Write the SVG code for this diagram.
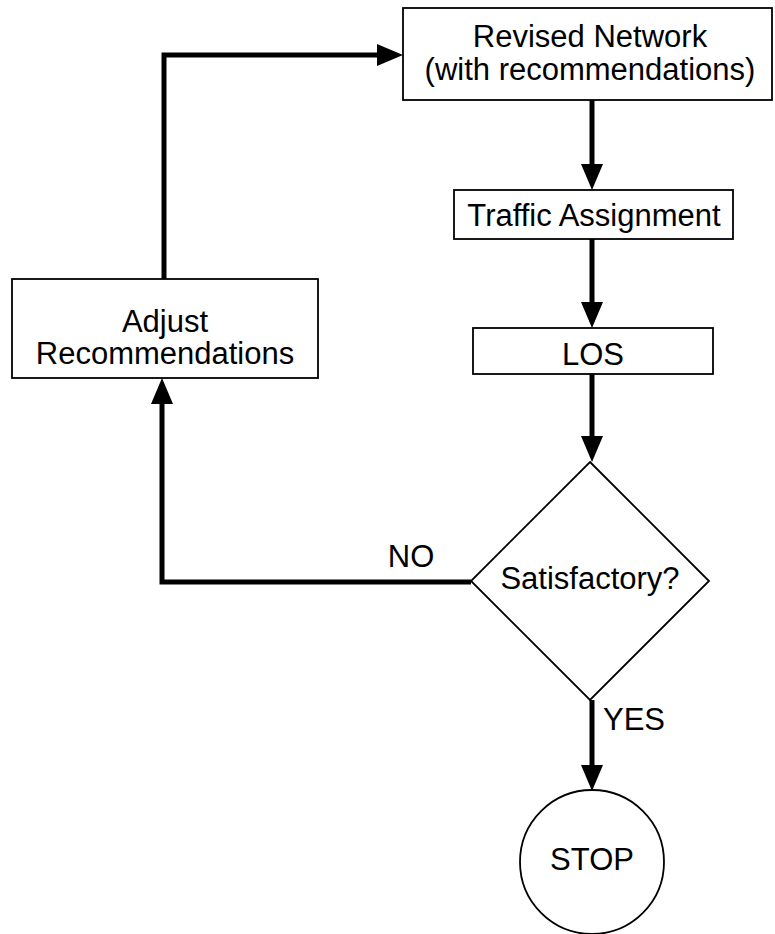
<svg xmlns="http://www.w3.org/2000/svg" width="775" height="934" viewBox="0 0 775 934">
<style>
.box{fill:#fff;stroke:#000;stroke-width:1.8}
.t{font-family:"Liberation Sans",Arial,sans-serif;font-size:31px;fill:#000;text-anchor:middle}
.c{fill:none;stroke:#000;stroke-width:5;stroke-linejoin:miter}
</style>
<defs>
<marker id="ah" markerUnits="userSpaceOnUse" markerWidth="26" markerHeight="22" refX="16" refY="11" orient="auto">
<path d="M0,0 L26,11 L0,22 z" fill="#000"/>
</marker>
</defs>
<g id="connectors">
<path class="c" d="M592,100 V180" marker-end="url(#ah)"/>
<path class="c" d="M592,239 V318" marker-end="url(#ah)"/>
<path class="c" d="M592,374 V452" marker-end="url(#ah)"/>
<path class="c" d="M592,700 V781" marker-end="url(#ah)"/>
<path class="c" d="M471,582 H162 V388" marker-end="url(#ah)"/>
<path class="c" d="M164,279 V55 H393" marker-end="url(#ah)"/>
<text class="t" x="411" y="567">NO</text>
<text class="t" x="603" y="730" style="text-anchor:start">YES</text>
</g>
<g id="revised">
<rect class="box" x="403" y="8" width="369" height="92"/>
<text class="t" x="590" y="47">Revised Network</text>
<text class="t" x="590" y="80">(with recommendations)</text>
</g>
<g id="traffic">
<rect class="box" x="454" y="190" width="279" height="49"/>
<text class="t" x="594" y="226">Traffic Assignment</text>
</g>
<g id="los">
<rect class="box" x="473" y="328" width="240" height="46"/>
<text class="t" x="593" y="365">LOS</text>
</g>
<g id="adjust">
<rect class="box" x="12" y="279" width="306" height="99"/>
<text class="t" x="165" y="332">Adjust</text>
<text class="t" x="165" y="364">Recommendations</text>
</g>
<g id="decision">
<polygon class="box" points="590,462 709,581 590,700 471,581"/>
<text class="t" x="590" y="589">Satisfactory?</text>
</g>
<g id="stop">
<circle class="box" cx="592" cy="862" r="72"/>
<text class="t" x="592" y="870">STOP</text>
</g>
</svg>
